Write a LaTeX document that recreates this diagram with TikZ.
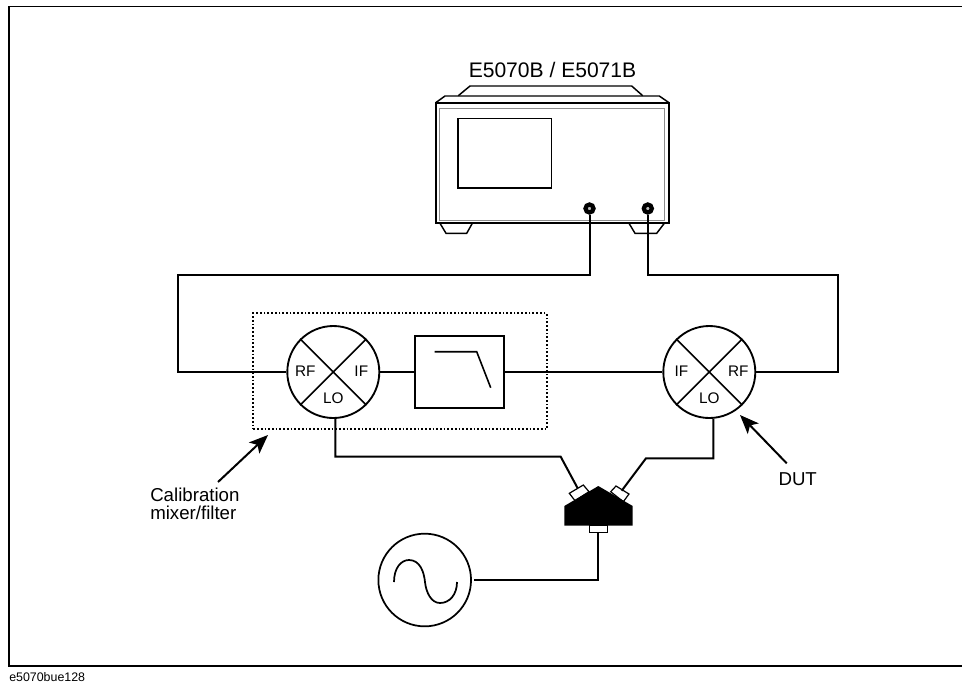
\documentclass[tikz,border=0pt]{standalone}
\usepackage{fontspec}
\setmainfont{Liberation Sans}
\usetikzlibrary{arrows.meta,calc}

\begin{document}
\begin{tikzpicture}[
    x=0.75pt,y=-0.75pt,
    >={Stealth[length=5mm,width=4mm,inset=1.2mm]},
    every node/.style={font=\fontsize{14pt}{14pt}\selectfont,text=black},
    mixlabel/.style={font=\fontsize{11.5pt}{13pt}\selectfont},
    wire/.style={draw=black,line width=1.5pt,line join=miter},
    thin box/.style={draw=black,line width=0.9pt,fill=white},
    mixer/.style={draw=black,line width=1.4pt,circle,minimum size=69pt,inner sep=0pt},
    pointer/.style={draw=black,line width=1.5pt,->},
    port/.style={draw=black,line width=3.2pt,circle,fill=black!25,minimum size=6pt,inner sep=0pt}
  ]
  \useasboundingbox (0,0) rectangle (962,683);
  % outer frame, open on the right
  \draw[line width=1.4pt] (962,6.5) -- (9.3,6.5) -- (9.3,666) -- (962,666);
  \node[font=\fontsize{9.3pt}{10pt}\selectfont,anchor=base west,inner sep=0pt] (figid) at (9,681) {e5070bue128};
  % analyzer
  \node[anchor=base,inner sep=0pt,font=\fontsize{15.8pt}{16pt}\selectfont] (title) at (552.5,77.5) {E5070B / E5071B};
  \draw[line width=1.1pt] (458.3,95.7) -- (470,86) -- (631.7,86) -- (642.7,95.7);
  \draw[line width=1.1pt] (435.7,102.7) -- (445,96) -- (659.3,96) -- (669,102.7);
  \draw[line width=1.1pt] (440,223.3) -- (446,233.3) -- (466.7,233.3) -- (472.3,223.3);
  \draw[line width=1.1pt] (629,223.3) -- (635,233.3) -- (656.7,233.3) -- (664.3,223.3);
  \node[draw=black,line width=1.5pt,minimum width=175pt,minimum height=90.5pt,inner sep=0pt] (analyzer) at (552.3,163) {};
  \node[draw=black!45,line width=0.6pt,minimum width=169pt,minimum height=84pt,inner sep=0pt] (panel) at (552.2,164.2) {};
  \node[draw=black,line width=1.2pt,minimum width=70pt,minimum height=52pt,inner sep=0pt] (screen) at (504.8,153.2) {};
  \node[port] (p1) at (589.5,208.5) {};
  \node[port] (p2) at (647.8,208.5) {};
  % mixers
  \node[mixer] (m1) at (333.3,372) {};
  \node[mixer] (m2) at (709.3,372) {};
  \foreach \m in {m1,m2}{
    \draw[line width=1.2pt] (\m.45) -- (\m.225) (\m.135) -- (\m.315);
    \node[mixlabel] (\m lo) at ($(\m)+(0,26)$) {LO};
  }
  \node[mixlabel] (m1rf) at ($(m1)+(-28,-1)$) {RF};
  \node[mixlabel] (m1if) at ($(m1)+(28,-1)$) {IF};
  \node[mixlabel] (m2if) at ($(m2)+(-28,-1)$) {IF};
  \node[mixlabel] (m2rf) at ($(m2)+(29,-1)$) {RF};
  % filter
  \node[draw=black,line width=1.4pt,minimum width=66.5pt,minimum height=54.5pt,inner sep=0pt] (lpf) at (459.5,372) {};
  \draw[line width=1.2pt] (434.5,351.7) -- (476.7,351.7) -- (490.7,387.7);
  \node[draw=black,line width=1.3pt,dash pattern=on 1.3pt off 1.5pt,minimum width=220pt,minimum height=87pt,inner sep=0pt] (cal) at (400,371.3) {};
  % splitter
  \draw[thin box] (569.3,493.3) -- (583.3,485) -- (589,491.7) -- (575,500.7) -- cycle;
  \draw[thin box] (610.7,491.7) -- (616,486) -- (629,494) -- (623.3,501.7) -- cycle;
  \node[draw=black,line width=0.9pt,fill=white,minimum width=13.5pt,minimum height=5pt,inner sep=0pt] (sp3) at (598.3,529) {};
  \fill[black] (598.3,486) -- (632.7,506) -- (632.7,525.7) -- (564.3,525.7) -- (564.3,506) -- cycle;
  \coordinate (sp1) at (577.7,488.3);
  \coordinate (sp2) at (621.7,490.7);
  % source
  \node[draw=black,line width=1.3pt,circle,minimum size=69.5pt,inner sep=0pt] (src) at (424.7,580) {};
  \draw[line width=1.3pt] (394,582) .. controls (394,568) and (401,560) .. (409,560) .. controls (420,560) and (424,572) .. (425,582) .. controls (426,592) and (431,603) .. (440,603) .. controls (450,603) and (457,594) .. (457,582);
  \coordinate (srcout) at (474,579.5);
  % wires
  \draw[wire] (p1.south) |- (178,275) |- (m1.west);
  \draw[wire] (p2.south) |- (838,275) |- (m2.east);
  \draw[wire] (m1.east) -- (lpf.west);
  \draw[wire] (lpf.east) -- (m2.west);
  \draw[wire] ($(m1.south)+(2,0)$) |- (560.7,456.7) -- (sp1);
  \draw[wire] ($(m2.south)+(4,0)$) |- (646,458.3) -- (sp2);
  \draw[wire] (sp3.south) |- (srcout);
  % captions
  \node[anchor=base west,inner sep=0pt] (callabel) at (150,501) {Calibration};
  \node[anchor=base west,inner sep=0pt] (callabel2) at (150,519) {mixer/filter};
  \node[anchor=base,inner sep=0pt] (dutlabel) at (797.7,485.5) {DUT};
  \draw[pointer] (218,482) -- (268,435);
  \draw[pointer] (786.7,463.3) -- (740,415);
\end{tikzpicture}
\end{document}
